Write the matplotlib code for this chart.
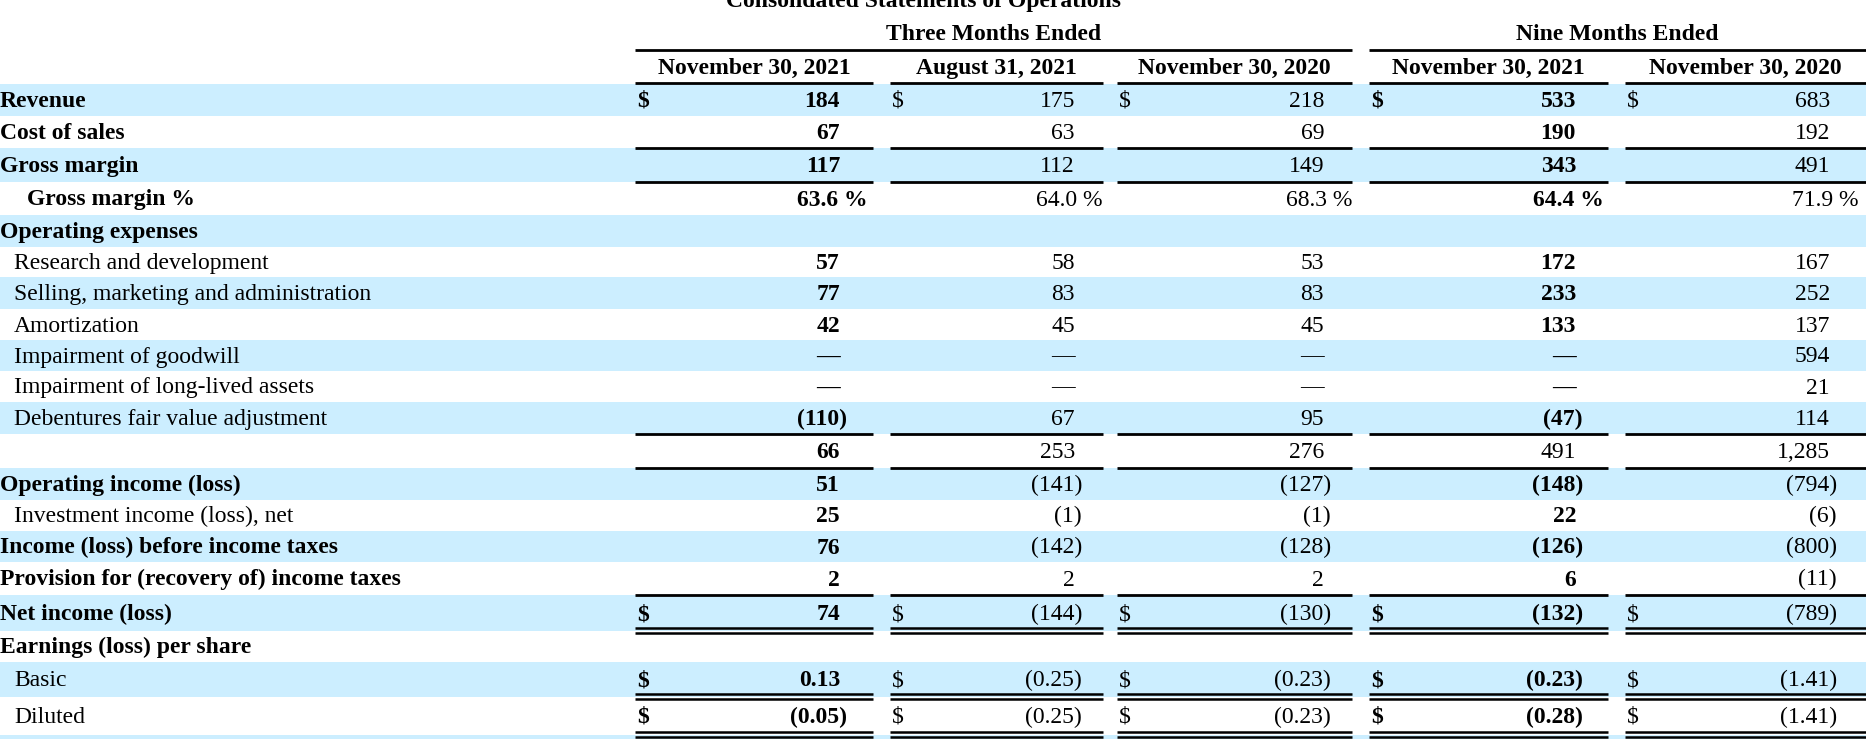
import matplotlib
matplotlib.use("Agg")
import matplotlib.pyplot as plt

# table content
title = "Consolidated Statements of Operations"
group_labels = ["Three Months Ended", "Nine Months Ended"]
period_labels = ["November 30, 2021", "August 31, 2021", "November 30, 2020",
                 "November 30, 2021", "November 30, 2020"]

row_labels = ["Revenue", "Cost of sales", "Gross margin", "Gross margin %",
              "Operating expenses", "Research and development",
              "Selling, marketing and administration", "Amortization",
              "Impairment of goodwill", "Impairment of long-lived assets",
              "Debentures fair value adjustment", "",
              "Operating income (loss)", "Investment income (loss), net",
              "Income (loss) before income taxes",
              "Provision for (recovery of) income taxes",
              "Net income (loss)", "Earnings (loss) per share",
              "Basic", "Diluted"]
label_bold = [1, 1, 1, 1, 1, 0, 0, 0, 0, 0, 0, 0, 1, 0, 1, 1, 1, 1, 0, 0]
label_indent = [0, 0, 0, 2, 0, 1, 1, 1, 1, 1, 1, 0, 0, 1, 0, 0, 0, 0, 1, 1]

nov21_3m = ["184", "67", "117", "63.6 %", "", "57", "77", "42", "—", "—",
            "(110)", "66", "51", "25", "76", "2", "74", "", "0.13", "(0.05)"]
aug21_3m = ["175", "63", "112", "64.0 %", "", "58", "83", "45", "—", "—",
            "67", "253", "(141)", "(1)", "(142)", "2", "(144)", "", "(0.25)", "(0.25)"]
nov20_3m = ["218", "69", "149", "68.3 %", "", "53", "83", "45", "—", "—",
            "95", "276", "(127)", "(1)", "(128)", "2", "(130)", "", "(0.23)", "(0.23)"]
nov21_9m = ["533", "190", "343", "64.4 %", "", "172", "233", "133", "—", "—",
            "(47)", "491", "(148)", "22", "(126)", "6", "(132)", "", "(0.23)", "(0.28)"]
nov20_9m = ["683", "192", "491", "71.9 %", "", "167", "252", "137", "594", "21",
            "114", "1,285", "(794)", "(6)", "(800)", "(11)", "(789)", "", "(1.41)", "(1.41)"]
columns = [nov21_3m, aug21_3m, nov20_3m, nov21_9m, nov20_9m]

dollar_rows = [0, 16, 18, 19]
bold_cols = [0, 3]
regular_cells = [(11, 3)]

# layout (pixels)
W, H = 1866, 739
row_top = [84, 116, 148, 182, 215, 247, 277, 309, 340, 371, 402, 434, 468,
           500, 531, 562, 595, 631, 662, 697, 735, 739]
col_left = [635, 890, 1117, 1369, 1625]
col_right = [873, 1103, 1352, 1608, 1866]
num_right = [840, 1075, 1324, 1576, 1830]
indent_px = [0, 14, 27]
single_lines = [1, 2, 10, 11, 15]  # rule under these rows
double_lines = [16, 18, 19]
band = "#cceeff"
fs = 17

plt.rcParams["font.family"] = ["Liberation Serif", "DejaVu Serif"]

fig = plt.figure(figsize=(W / 100, H / 100), dpi=100)
ax = fig.add_axes([0, 0, 1, 1])
ax.set_xlim(0, W)
ax.set_ylim(H, 0)
ax.axis("off")

# alternating shaded rows
for i in range(0, len(row_top) - 1, 2):
    ax.axhspan(row_top[i], row_top[i + 1], color=band, lw=0, zorder=0)

# headers
ax.text(924, 7, title, ha="center", va="baseline", fontsize=fs, fontweight="bold")
spans = [(0, 2), (3, 4)]
for lab, (a, b) in zip(group_labels, spans):
    ax.text((col_left[a] + col_right[b]) / 2, 40, lab, ha="center", va="baseline",
            fontsize=fs, fontweight="bold")
    ax.hlines(50, col_left[a], col_right[b], color="black", lw=2.0)
for j, lab in enumerate(period_labels):
    ax.text((col_left[j] + col_right[j]) / 2, 74, lab, ha="center", va="baseline",
            fontsize=fs, fontweight="bold")
    ax.hlines(82.5, col_left[j], col_right[j], color="black", lw=2.0)

# rows
for i, lab in enumerate(row_labels):
    base = (row_top[i] + row_top[i + 1]) / 2 + 7
    if lab:
        ax.text(indent_px[label_indent[i]], base, lab, ha="left", va="baseline",
                fontsize=fs, fontweight="bold" if label_bold[i] else "normal")
    for j, col in enumerate(columns):
        s = col[i]
        w = "bold" if (j in bold_cols and (i, j) not in regular_cells) else "normal"
        if i in dollar_rows:
            ax.text(col_left[j] + 2, base, "$", ha="left", va="baseline",
                    fontsize=fs, fontweight=w)
        if not s:
            continue
        x = num_right[j]
        if s.endswith("%"):
            x += 28
        elif s.endswith(")"):
            x += 7
        ax.text(x, base, s, ha="right", va="baseline", fontsize=fs, fontweight=w)

# rule lines under cells
for i in single_lines:
    y = row_top[i + 1]
    for j in range(5):
        ax.hlines(y, col_left[j], col_right[j], color="black", lw=2.0)
for i in double_lines:
    y = row_top[i + 1]
    for j in range(5):
        ax.hlines(y - 3, col_left[j], col_right[j], color="black", lw=1.8)
        ax.hlines(y + 2, col_left[j], col_right[j], color="black", lw=1.8)

fig.savefig("out.png", dpi=100, facecolor="white")
